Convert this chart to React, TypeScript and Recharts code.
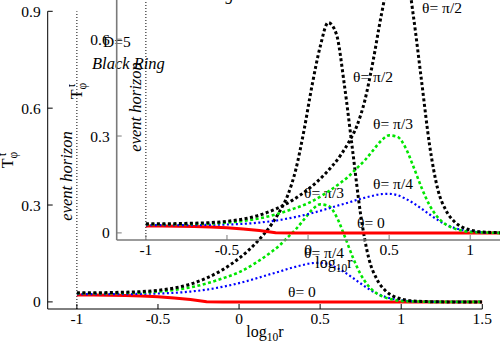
import React from 'react';
import { LineChart, Line, XAxis, YAxis, ReferenceLine, ReferenceDot, Label } from 'recharts';

const FONT = "'Liberation Serif', 'Times New Roman', serif";

// log10 r sample points
const logR = [-1, -0.9, -0.8, -0.7, -0.6, -0.5, -0.4, -0.3, -0.2, -0.1, 0, 0.1, 0.2, 0.25, 0.3, 0.35, 0.4, 0.45, 0.5, 0.55, 0.6, 0.65, 0.7, 0.75, 0.8, 0.85, 0.9, 0.95, 1.0, 1.1, 1.2, 1.3, 1.4, 1.5];
// T_phi^t for each theta
const thetaZero = [0.021, 0.021, 0.0205, 0.0195, 0.018, 0.016, 0.012, 0.0075, 0.0005, 0, 0, 0, 0, 0, 0, 0, 0, 0, 0, 0, 0, 0, 0, 0, 0, 0, 0, 0, 0, 0, 0, 0, 0, 0];
const thetaPi4 = [0.024, 0.024, 0.024, 0.024, 0.025, 0.026, 0.028, 0.032, 0.038, 0.047, 0.058, 0.072, 0.087, 0.094, 0.102, 0.109, 0.115, 0.12, 0.121, 0.117, 0.106, 0.092, 0.075, 0.057, 0.04, 0.026, 0.016, 0.009, 0.005, 0.001, 0, 0, 0, 0];
const thetaPi3 = [0.027, 0.027, 0.027, 0.028, 0.029, 0.032, 0.037, 0.045, 0.057, 0.073, 0.092, 0.12, 0.155, 0.175, 0.2, 0.225, 0.255, 0.285, 0.302, 0.298, 0.265, 0.205, 0.14, 0.085, 0.048, 0.026, 0.014, 0.007, 0.003, 0.001, 0, 0, 0, 0];
const thetaPi2 = [0.028, 0.028, 0.029, 0.03, 0.032, 0.036, 0.043, 0.055, 0.074, 0.1, 0.135, 0.18, 0.24, 0.28, 0.33, 0.41, 0.53, 0.67, 0.79, 0.865, 0.83, 0.67, 0.47, 0.27, 0.135, 0.07, 0.036, 0.018, 0.009, 0.002, 0.0005, 0, 0, 0];

const xTicks = [-1, -0.5, 0, 0.5, 1, 1.5];
const yTicks = [0, 0.3, 0.6, 0.9];

const noteTexts = ['D=5', 'Black Ring', 'θ= π/2', 'θ= π/3', 'θ= π/4', 'θ= 0'];
const noteX = [-0.753, -0.682, 0.826, 0.524, 0.524, 0.388];
const noteY = [0.808, 0.737, 0.697, 0.338, 0.152, 0.031];
const noteItalic = [false, true, false, false, false, false];

const horizonLabel = 'event horizon';
const horizonX = -1.055;
const horizonY = 0.39;

const data = logR.map((x, i) => ({
  x,
  t0: thetaZero[i],
  t4: thetaPi4[i],
  t3: thetaPi3[i],
  t2: thetaPi2[i],
}));

const XTitle = (props: any) => {
  const vb = props.viewBox;
  const cx = vb.x + vb.width / 2;
  return (
    <text x={cx} y={vb.y + 28} textAnchor="middle" fontFamily={FONT} fontSize={16} fill="#000">
      <tspan>log</tspan>
      <tspan dy={4} fontSize={11.5}>10</tspan>
      <tspan dy={-4}>r</tspan>
    </text>
  );
};

const YTitle = (props: any) => {
  const vb = props.viewBox;
  const x = 13;
  const y = vb.y + vb.height / 2;
  return (
    <text x={x} y={y} textAnchor="middle" fontFamily={FONT} fontSize={16} fill="#000" transform={`rotate(-90, ${x}, ${y})`}>
      <tspan>T</tspan>
      <tspan dy={4} fontSize={11.5}>φ</tspan>
      <tspan dy={-11} dx={-4} fontSize={11.5}>t</tspan>
    </text>
  );
};

function Panel({ axisColor, axisWidth }: { axisColor: string; axisWidth: number }) {
  const axisLine = { stroke: axisColor, strokeWidth: axisWidth };
  const tickLine = { stroke: axisColor, strokeWidth: 1 };
  const tickStyle = { fill: '#000', fontSize: 15.5, fontFamily: FONT };
  return (
    <LineChart width={500} height={350} data={data} margin={{ top: 11.3, right: 17.7, bottom: 0, left: 0 }}>
      <XAxis
        dataKey="x"
        type="number"
        domain={[-1.18, 1.5]}
        ticks={xTicks}
        allowDataOverflow
        height={41}
        tickSize={-5}
        tickMargin={9}
        axisLine={axisLine}
        tickLine={tickLine}
        tick={tickStyle}
      >
        <Label content={XTitle} />
      </XAxis>
      <XAxis
        xAxisId="top"
        orientation="top"
        dataKey="x"
        type="number"
        domain={[-1.18, 1.5]}
        ticks={xTicks}
        allowDataOverflow
        height={0}
        tickSize={-5}
        axisLine={axisLine}
        tickLine={tickLine}
        tick={false}
      />
      <YAxis
        type="number"
        domain={[-0.022, 0.9]}
        ticks={yTicks}
        allowDataOverflow
        width={47.7}
        tickSize={-5}
        tickMargin={12}
        axisLine={axisLine}
        tickLine={tickLine}
        tick={tickStyle}
      >
        <Label content={YTitle} />
      </YAxis>
      <YAxis
        yAxisId="right"
        orientation="right"
        type="number"
        domain={[-0.022, 0.9]}
        ticks={yTicks}
        allowDataOverflow
        width={0}
        tickSize={-5}
        axisLine={axisLine}
        tickLine={tickLine}
        tick={false}
      />
      <ReferenceLine x={-1} stroke="#000" strokeWidth={1} strokeDasharray="1 2" />
      <Line type="linear" dataKey="t0" stroke="#ff0000" strokeWidth={3} dot={false} isAnimationActive={false} />
      <Line type="monotone" dataKey="t4" stroke="#0000ff" strokeWidth={2.2} strokeDasharray="2 2.5" dot={false} isAnimationActive={false} />
      <Line type="monotone" dataKey="t3" stroke="#00e600" strokeWidth={2.6} strokeDasharray="3 2.5" dot={false} isAnimationActive={false} />
      <Line type="monotone" dataKey="t2" stroke="#000000" strokeWidth={3} strokeDasharray="3 2.5" dot={false} isAnimationActive={false} />
      {noteTexts.map((t, i) => (
        <ReferenceDot
          key={t}
          x={noteX[i]}
          y={noteY[i]}
          r={0}
          ifOverflow="visible"
          shape={(p: any) => (
            <text x={p.cx} y={p.cy} dy={5.5} textAnchor="middle" fontFamily={FONT} fontSize={noteItalic[i] ? 16.5 : 15.5} fontStyle={noteItalic[i] ? 'italic' : 'normal'} fill="#000">
              {t}
            </text>
          )}
        />
      ))}
      <ReferenceDot
        x={horizonX}
        y={horizonY}
        r={0}
        ifOverflow="visible"
        shape={(p: any) => (
          <text x={p.cx} y={p.cy} dy={4} textAnchor="middle" fontFamily={FONT} fontSize={16.5} fontStyle="italic" fill="#000" transform={`rotate(-90, ${p.cx}, ${p.cy})`}>
            {horizonLabel}
          </text>
        )}
      />
    </LineChart>
  );
}

export default function App() {
  return (
    <div style={{ position: 'absolute', left: 0, top: 0, width: 500, height: 350, overflow: 'hidden', background: '#fff' }}>
      <div style={{ position: 'absolute', left: 0, top: 0 }}>
        <Panel axisColor="#000" axisWidth={1} />
      </div>
      <div style={{ position: 'absolute', left: 69, top: -69 }}>
        <Panel axisColor="#7a7a7a" axisWidth={1.6} />
      </div>
    </div>
  );
}
